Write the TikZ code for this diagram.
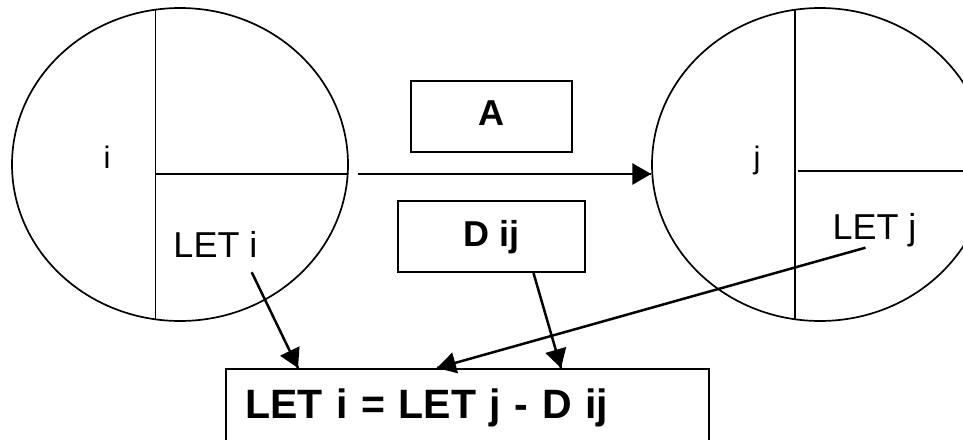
\documentclass[tikz,border=0pt]{standalone}
\usepackage{fontspec}
\setmainfont{Liberation Sans}
\usetikzlibrary{arrows}
\usetikzlibrary{decorations.markings}
\usetikzlibrary{shapes.geometric}
\tikzset{->/.style = {decoration={markings,
                                  mark=at position 1 with {\arrow[scale=1.5]{triangle 60}}},
                      postaction={decorate}}}
\tikzset{event/.style = {draw, ellipse, line width = 1.7, inner sep = 0,
                         minimum width = 336, minimum height = 313}}
\tikzset{lbl/.style = {anchor = base, inner sep = 0, font = \fontsize{36}{40}\selectfont}}
\tikzset{nm/.style = {anchor = base, inner sep = 0, font = \fontsize{31}{36}\selectfont}}
\tikzset{bbox/.style = {draw, line width = 2, minimum height = 71, text depth = 7,
                        font = \bfseries\fontsize{36}{40}\selectfont}}

\begin{document}
\begin{tikzpicture}[x = 1pt, y = -1pt]
      \useasboundingbox (0, 0) rectangle (963, 439);
      % the two events
      \node [event] (ei) at (180, 164.5) {};
      \node [event] (ej) at (820, 164.5) {};
      \draw [line width = 1.7] (155.5, 10) -- (155.5, 320);
      \draw [line width = 1.7] (155.5, 174) -- (347.5, 174);
      \draw [line width = 1.7] (795, 10) -- (795, 320);
      \draw [line width = 1.7] (798, 171) -- (ej.east |- 0, 171);
      \node [nm] (ni) at (107, 168) {i};
      \node [nm] (nj) at (757, 168) {j};
      \node [lbl] (leti) at (215.5, 257) {LET i};
      \node [lbl] (letj) at (874.5, 239) {LET j};
      % activity
      \coordinate (iout) at (358, 174);
      \draw [->, line width = 2.5] (iout) -- (ej.west |- iout);
      \node [bbox, minimum width = 161] (act) at (491.5, 116.5) {A};
      \node [bbox, minimum width = 187] (dur) at (491.5, 236.5) {D ij};
      % latest event time
      \node [draw, line width = 2, anchor = north west, inner xsep = 19, inner ysep = 0,
             text width = 445, align = left, text height = 49, text depth = 60,
             font = \bfseries\fontsize{41}{46}\selectfont] (res) at (225, 368) {LET i = LET j - D ij};
      \draw [->, line width = 2.5] ([shift = {(-6, 15)}]leti.south east) -- ([xshift = 73]res.north west);
      \draw [->, line width = 2.5] ([xshift = 42]dur.south) -- ([xshift = 336]res.north west);
      \draw [->, line width = 2.5] ([shift = {(-9, 1)}]letj.south) -- ([xshift = 212]res.north west);
    \end{tikzpicture}
\end{document}
